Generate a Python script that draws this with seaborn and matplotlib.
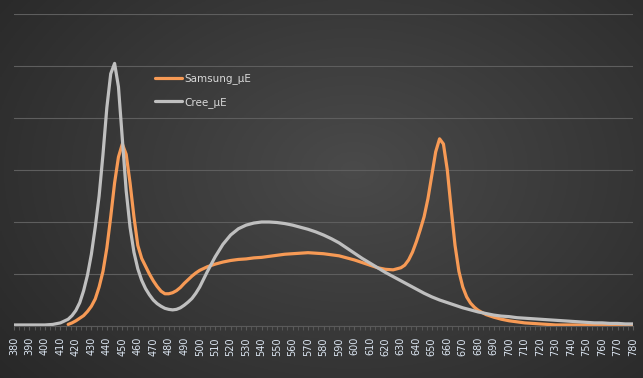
import numpy as np
import pandas as pd
import matplotlib
matplotlib.use("Agg")
import matplotlib.pyplot as plt
import matplotlib.ticker as ticker
import seaborn as sns

# wavelengths (nm): finer steps around the peaks
cree_wl = (
    list(range(380, 415, 5))
    + list(np.arange(415, 502.5, 2.5))
    + list(range(505, 785, 5))
)
cree = [
    0.02, 0.02, 0.02, 0.02, 0.02, 0.03, 0.06,  # 380-410
    0.13, 0.20, 0.30, 0.45, 0.68, 0.98, 1.38, 1.90, 2.50, 3.30,  # 415-437.5
    4.20, 4.85, 5.05, 4.60, 3.60, 2.60, 1.90, 1.42, 1.10, 0.88,  # 440-462.5
    0.72, 0.60, 0.50, 0.43, 0.38, 0.34, 0.32, 0.31, 0.32, 0.35,  # 465-487.5
    0.40, 0.46, 0.53, 0.63, 0.75,                                # 490-500
    1.05, 1.33, 1.57, 1.75, 1.87,                                # 505-525
    1.94, 1.98, 2.00, 2.00, 1.99, 1.97, 1.94, 1.90, 1.86, 1.81,  # 530-575
    1.75, 1.68, 1.60, 1.50, 1.40, 1.30, 1.21, 1.12, 1.03, 0.95,  # 580-625
    0.87, 0.79, 0.71, 0.63, 0.56, 0.50, 0.45, 0.40, 0.35, 0.31,  # 630-675
    0.27, 0.24, 0.21, 0.19, 0.18, 0.16, 0.15, 0.14, 0.13, 0.12,  # 680-725
    0.11, 0.10, 0.09, 0.08, 0.07, 0.06, 0.06, 0.05, 0.05, 0.04,  # 730-775
    0.04,                                                        # 780
]

samsung_wl = (
    list(np.arange(415, 502.5, 2.5))
    + list(range(505, 630, 5))
    + list(np.arange(630, 682.5, 2.5))
    + list(range(685, 785, 5))
)
samsung = [
    0.03, 0.06, 0.10, 0.15, 0.20, 0.28, 0.38, 0.52, 0.75, 1.05,  # 415-437.5
    1.50, 2.10, 2.75, 3.25, 3.50, 3.30, 2.75, 2.10, 1.55, 1.30,  # 440-462.5
    1.15, 1.00, 0.87, 0.76, 0.67, 0.62, 0.62, 0.64, 0.68, 0.74,  # 465-487.5
    0.82, 0.89, 0.96, 1.02, 1.07,                                # 490-500
    1.14, 1.19, 1.23, 1.26, 1.28,                                # 505-525
    1.29, 1.31, 1.32, 1.34, 1.36, 1.38, 1.39, 1.40, 1.41, 1.40,  # 530-575
    1.39, 1.37, 1.35, 1.31, 1.27, 1.22, 1.17, 1.12, 1.09, 1.08,  # 580-625
    1.12, 1.17, 1.27, 1.42, 1.62, 1.85, 2.10, 2.45, 2.90, 3.35,  # 630-652.5
    3.60, 3.50, 3.00, 2.25, 1.55, 1.05, 0.75, 0.56, 0.44, 0.36,  # 655-677.5
    0.30,                                                        # 680
    0.22, 0.17, 0.13, 0.10, 0.08, 0.06, 0.05, 0.04, 0.03,        # 685-725
    0.02, 0.02, 0.02, 0.02, 0.02, 0.02, 0.02, 0.02, 0.02, 0.02,  # 730-775
    0.02,                                                        # 780
]

series_names = ["Samsung_µE", "Cree_µE"]
tick_labels = list(range(380, 790, 10))

df = pd.concat(
    [
        pd.DataFrame({"wavelength": samsung_wl, "value": samsung, "series": "Samsung_µE"}),
        pd.DataFrame({"wavelength": cree_wl, "value": cree, "series": "Cree_µE"}),
    ],
    ignore_index=True,
)

# figure with dark radial background
fig = plt.figure(figsize=(6.43, 3.78), dpi=100)
bg = fig.add_axes([0, 0, 1, 1], zorder=-10)
gx, gy = np.meshgrid(np.linspace(0, 1, 300), np.linspace(0, 1, 200))
r = np.sqrt(((gx - 0.55) / 0.75) ** 2 + ((gy - 0.45) / 0.9) ** 2)
shade = np.clip(0.29 - 0.14 * r, 0.15, 0.3)
bg.imshow(np.dstack([shade, shade, shade]), aspect="auto", extent=[0, 1, 0, 1])
bg.axis("off")

ax = fig.add_axes([14 / 643, 1 - 326 / 378, (633 - 14) / 643, (326 - 14) / 378])
ax.set_facecolor("none")

sns.lineplot(
    data=df,
    x="wavelength",
    y="value",
    hue="series",
    hue_order=series_names,
    palette=["#F79A55", "#BFBFBF"],
    linewidth=2.3,
    solid_joinstyle="round",
    solid_capstyle="round",
    ax=ax,
)

ax.set_xlim(380, 780)
ax.set_ylim(0, 6)
ax.set_xticks(tick_labels)
ax.set_xticklabels([str(t) for t in tick_labels], rotation=90, fontsize=7, color="#DCE6F2")
ax.xaxis.set_minor_locator(ticker.MultipleLocator(10 / 3))
ax.tick_params(axis="x", which="both", length=3, color="#5a5a5a", pad=5)
ax.yaxis.set_major_locator(ticker.MultipleLocator(1))
ax.set_yticklabels([])
ax.tick_params(axis="y", length=0)
ax.grid(axis="y", color="#5e5e5e", linewidth=0.8)
ax.set_axisbelow(True)
for side in ["top", "right", "left"]:
    ax.spines[side].set_visible(False)
ax.spines["bottom"].set_color("#5a5a5a")
ax.set_xlabel("")
ax.set_ylabel("")

ax.legend(
    loc="upper left",
    bbox_to_anchor=(146 / 643, 1 - 64 / 378),
    bbox_transform=fig.transFigure,
    frameon=False,
    fontsize=7.5,
    labelcolor="#D9D9D9",
    handlelength=2.6,
    handletextpad=0.2,
    labelspacing=1.2,
)

plt.savefig("out.png", dpi=100)
